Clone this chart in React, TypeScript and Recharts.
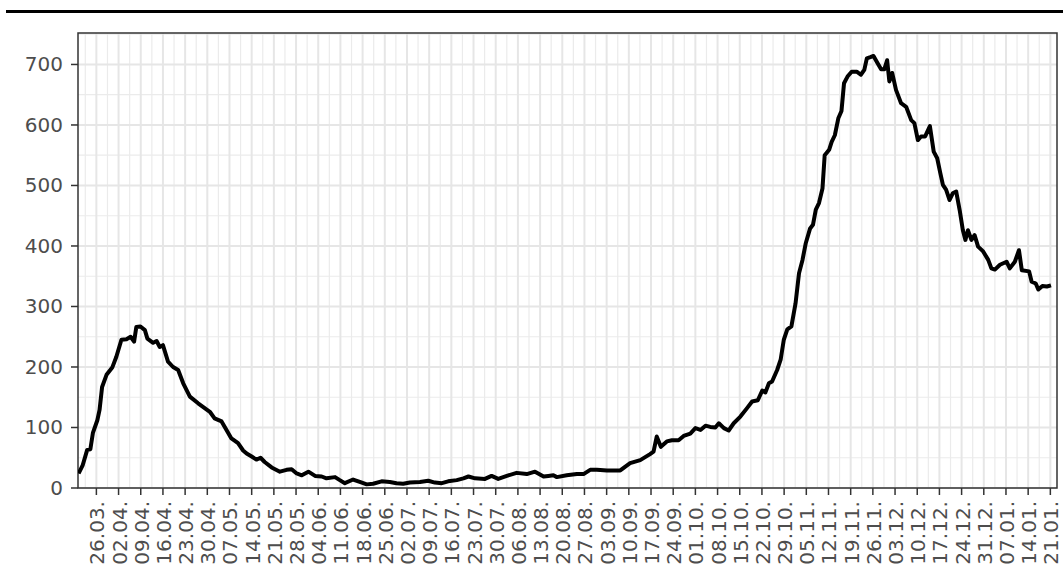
import { LineChart, Line, XAxis, YAxis, CartesianGrid, ReferenceArea } from 'recharts'

// ─── Data ─────────────────────────────────────────────────────────────────────
// day 0 = 20.03., one point per traced vertex of the curve

const DAYS = [
  0.4, 1.7, 3.1, 4.1, 4.9, 6.3, 7.0, 7.8, 9.2, 11.0, 12.3, 13.9, 15.5, 16.8, 17.9, 18.6, 19.9,
  21.3, 22.1, 23.9, 25.0, 26.0, 27.0, 28.6, 30.2, 31.8, 33.4, 35.5, 38.1, 41.8, 43.3, 45.5,
  48.6, 50.7, 52.3, 53.4, 55.0, 56.5, 57.8, 59.1, 61.3, 63.9, 66.0, 67.6, 69.2, 70.8, 72.9,
  75.0, 77.1, 78.6, 81.3, 82.8, 84.4, 87.0, 89.1, 91.3, 93.3, 96.0, 98.6, 100.7, 102.8, 104.9,
  108.1, 110.7, 112.8, 115.0, 117.0, 119.7, 121.8, 123.4, 125.5, 128.6, 130.7, 132.8, 135.5,
  138.6, 141.8, 144.4, 147.1, 148.6, 150.2, 151.3, 154.4, 157.6, 159.7, 161.8, 163.9, 167.1,
  171.3, 172.8, 174.4, 177.6, 180.7, 181.8, 182.8, 184.1, 186.0, 187.6, 189.7, 191.3, 193.4,
  195.0, 196.6, 198.2, 199.7, 201.3, 202.4, 204.0, 205.5, 207.1, 209.2, 211.3, 212.9, 214.7,
  216.1, 217.1, 218.2, 219.2, 220.8, 221.9, 222.9, 224.0, 225.3, 226.6, 227.7, 228.8, 229.8,
  231.2, 232.1, 233.0, 234.0, 235.1, 235.8, 237.2, 238.0, 239.0, 240.1, 241.1, 241.9, 243.0,
  244.3, 245.9, 247.2, 248.3, 249.1, 250.2, 251.2, 252.5, 253.6, 254.6, 255.5, 256.2, 257.1,
  258.3, 259.9, 261.5, 263.1, 264.1, 265.2, 266.2, 267.5, 269.0, 270.2, 271.3, 272.3, 273.1,
  274.1, 275.2, 276.2, 277.3, 278.4, 279.4, 280.2, 281.0, 282.1, 283.1, 284.2, 285.8, 287.4,
  288.4, 289.5, 291.1, 293.2, 294.2, 295.8, 297.1, 298.0, 300.3, 301.1, 302.4, 303.2, 304.5,
  305.9, 307.2,
]

const CASES = [
  24, 38, 63, 64, 91, 112, 129, 167, 187, 199, 217, 245, 246, 250, 242, 266, 267,
  261, 247, 240, 243, 233, 236, 209, 200, 195, 173, 151, 140, 126, 115, 110,
  82, 74, 62, 57, 52, 47, 50, 43, 34, 27, 30, 31, 24, 21, 27,
  20, 19, 16, 18, 13, 8, 14, 10, 6, 7, 11, 10, 8, 7, 9,
  10, 12, 9, 8, 11, 13, 16, 19, 16, 15, 20, 15, 20,
  25, 23, 27, 19, 20, 21, 18, 21, 23, 23, 30, 30, 29,
  29, 35, 41, 46, 56, 60, 85, 68, 77, 79, 79, 86, 90,
  99, 96, 103, 101, 100, 107, 99, 95, 107, 118, 132, 143, 145,
  161, 158, 173, 176, 195, 212, 245, 262, 267, 305, 355, 377, 404,
  429, 435, 460, 471, 495, 550, 559, 572, 583, 611, 623, 669, 680,
  688, 688, 683, 691, 710, 712, 714, 702, 692, 692, 707, 672, 686,
  658, 636, 630, 608, 603, 575, 581, 581, 598, 556, 545, 520, 501,
  493, 476, 487, 490, 459, 426, 410, 426, 410, 418, 399, 391, 377,
  363, 361, 369, 374, 363, 374, 393, 360, 358, 341, 338, 328, 334,
  333, 335,
]

const TICK_DAYS = [
  6, 13, 20, 27, 34, 41, 48, 55, 62, 69, 76, 83, 90, 97, 104, 111, 118, 125, 132, 139, 146, 153,
  160, 167, 174, 181, 188, 195, 202, 209, 216, 223, 230, 237, 244, 251, 258, 265, 272, 279, 286,
  293, 300, 307,
]

const TICK_LABELS = [
  '26.03.', '02.04.', '09.04.', '16.04.', '23.04.', '30.04.', '07.05.', '14.05.', '21.05.',
  '28.05.', '04.06.', '11.06.', '18.06.', '25.06.', '02.07.', '09.07.', '16.07.', '23.07.',
  '30.07.', '06.08.', '13.08.', '20.08.', '27.08.', '03.09.', '10.09.', '17.09.', '24.09.',
  '01.10.', '08.10.', '15.10.', '22.10.', '29.10.', '05.11.', '12.11.', '19.11.', '26.11.',
  '03.12.', '10.12.', '17.12.', '24.12.', '31.12.', '07.01.', '14.01.', '21.01.',
]

const Y_TICKS = [0, 100, 200, 300, 400, 500, 600, 700]

// ─── Constants ────────────────────────────────────────────────────────────────

const FONT = "'DejaVu Sans', sans-serif"
const TEXT = '#4d4d4d'
const DARK = '#333333'
const GRID = '#ebebeb'
const X_DOMAIN: [number, number] = [0.2, 309.1]
const Y_DOMAIN: [number, number] = [0, 752]

const data = DAYS.map((day, i) => ({ day, cases: CASES[i] }))
const minorX = TICK_DAYS.map((d) => d - 3.5)
const minorY = Y_TICKS.map((v) => v + 50)

interface TickProps {
  x: number
  y: number
  payload: { value: number }
}

function DateTick({ x, y, payload }: TickProps) {
  const idx = TICK_DAYS.indexOf(payload.value)
  return (
    <text
      x={x + 1}
      y={y}
      transform={`rotate(-90 ${x + 1} ${y})`}
      textAnchor="end"
      dominantBaseline="central"
      fill={TEXT}
      fontFamily={FONT}
      fontSize={20}
    >
      {TICK_LABELS[idx]}
    </text>
  )
}

function ValueTick({ x, y, payload }: TickProps) {
  return (
    <text
      x={x}
      y={y}
      textAnchor="end"
      dominantBaseline="central"
      fill={TEXT}
      fontFamily={FONT}
      fontSize={20}
    >
      {payload.value}
    </text>
  )
}

// ─── Component ────────────────────────────────────────────────────────────────

export default function App() {
  return (
    <div style={{ position: 'absolute', left: 0, top: 0, width: 1063, height: 584, background: '#fff' }}>
      <div style={{ position: 'absolute', left: 6, top: 10, width: 1057, height: 3, background: '#000' }} />
      <div style={{ position: 'absolute', left: 0, top: 0 }}>
        <LineChart width={1063} height={584} data={data} margin={{ top: 33, right: 6, left: 0, bottom: 0 }}>
          <CartesianGrid
            stroke={GRID}
            strokeWidth={1.2}
            verticalValues={minorX}
            horizontalValues={minorY}
          />
          <CartesianGrid
            stroke="#e6e6e6"
            strokeWidth={2}
            verticalValues={TICK_DAYS}
            horizontalValues={Y_TICKS}
          />
          <XAxis
            dataKey="day"
            type="number"
            domain={X_DOMAIN}
            allowDataOverflow
            ticks={TICK_DAYS}
            interval={0}
            height={96}
            axisLine={false}
            tickSize={7}
            tickMargin={6}
            tickLine={{ stroke: DARK, strokeWidth: 1.5 }}
            tick={DateTick}
          />
          <YAxis
            type="number"
            domain={Y_DOMAIN}
            allowDataOverflow
            ticks={Y_TICKS}
            width={78}
            axisLine={false}
            tickSize={7}
            tickMargin={8}
            tickLine={{ stroke: DARK, strokeWidth: 1.5 }}
            tick={ValueTick}
          />
          <ReferenceArea
            x1={X_DOMAIN[0]}
            x2={X_DOMAIN[1]}
            y1={Y_DOMAIN[0]}
            y2={Y_DOMAIN[1]}
            fill="none"
            stroke={DARK}
            strokeWidth={1.5}
          />
          <Line
            type="linear"
            dataKey="cases"
            stroke="#000"
            strokeWidth={4}
            strokeLinejoin="round"
            dot={false}
            isAnimationActive={false}
          />
        </LineChart>
      </div>
    </div>
  )
}
